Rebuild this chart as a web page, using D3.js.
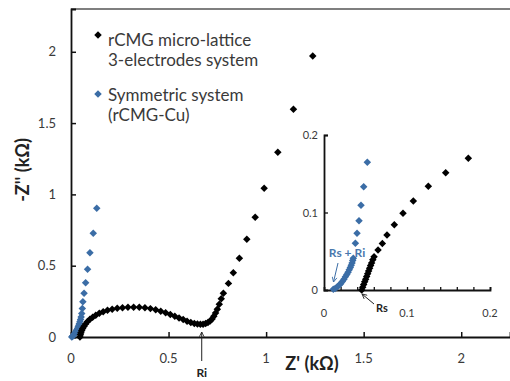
<!DOCTYPE html>
<html>
<head>
<meta charset="utf-8">
<script src="https://cdn.jsdelivr.net/npm/d3@7"></script>
<style>
  html, body { margin: 0; padding: 0; background: #fff; }
  svg { display: block; font-family: Lato, "Open Sans", sans-serif; }
</style>
</head>
<body>
<svg id="chart" width="510" height="381"></svg>
<script>
// Nyquist plot: rCMG micro-lattice (3-electrode) vs symmetric rCMG-Cu cell

// Main plot, 3-electrodes system: Z' (kΩ), -Z'' (kΩ)
const mainElecX = [0.046,0.048,0.051,0.055,0.060,0.067,0.075,0.085,0.097,0.111,0.127,0.145,0.165,0.187,0.211,0.237,0.264,0.292,0.321,0.350,0.379,0.407,0.434,0.460,0.485,0.509,0.532,0.554,0.575,0.595,0.614,0.632,0.648,0.663,0.677,0.690,0.702,0.713,0.723,0.732,0.741,0.750,0.760,0.770,0.781,0.807,0.832,0.863,0.901,0.944,0.990,1.060,1.140,1.239];
const mainElecY = [0.000,0.015,0.030,0.045,0.060,0.075,0.092,0.108,0.124,0.139,0.153,0.166,0.177,0.187,0.195,0.201,0.205,0.208,0.209,0.208,0.205,0.199,0.191,0.181,0.170,0.158,0.146,0.134,0.122,0.111,0.102,0.095,0.091,0.089,0.090,0.094,0.101,0.112,0.127,0.146,0.168,0.195,0.230,0.268,0.306,0.376,0.451,0.552,0.685,0.839,1.043,1.295,1.597,1.971];

// Main plot, symmetric system (rCMG-Cu)
const mainSymX = [0.004,0.007,0.010,0.013,0.016,0.019,0.022,0.025,0.028,0.031,0.034,0.037,0.040,0.043,0.046,0.049,0.052,0.055,0.058,0.061,0.067,0.075,0.085,0.097,0.114,0.132];
const mainSymY = [0.000,0.004,0.008,0.013,0.018,0.024,0.030,0.037,0.045,0.053,0.062,0.072,0.083,0.095,0.108,0.122,0.140,0.165,0.200,0.248,0.306,0.381,0.475,0.591,0.727,0.902];

// Inset (high-frequency region)
const insetElecX = [0.0454,0.0466,0.0478,0.0490,0.0502,0.0514,0.0526,0.0538,0.0550,0.0562,0.0574,0.0588,0.0603,0.0651,0.0703,0.0759,0.0847,0.0952,0.1076,0.1257,0.1466,0.1739];
const insetElecY = [0.000,0.0035,0.0070,0.0105,0.0140,0.0175,0.0210,0.0245,0.0280,0.0315,0.0350,0.0390,0.0430,0.0516,0.060,0.071,0.0843,0.099,0.1148,0.134,0.1514,0.170];
const insetSymX = [0.0112,0.0135,0.0158,0.0180,0.0201,0.0221,0.0240,0.0258,0.0275,0.0290,0.0304,0.0317,0.0328,0.0338,0.0346,0.0353,0.0378,0.0398,0.0422,0.0446,0.0478,0.0522];
const insetSymY = [0.001,0.002,0.004,0.006,0.008,0.011,0.014,0.017,0.020,0.023,0.026,0.029,0.032,0.035,0.038,0.041,0.0602,0.0731,0.0894,0.1093,0.1333,0.1648];

const mainXTicks = [0, 0.5, 1, 1.5, 2];
const mainYTicks = [0, 0.5, 1, 1.5, 2];
const insetXTicks = [0, 0.1, 0.2];
const insetXMinor = [0.02,0.04,0.06,0.08,0.1,0.12,0.14,0.16,0.18,0.2];
const insetYTicks = [0, 0.1, 0.2];

const seriesNames = ["rCMG micro-lattice", "3-electrodes system", "Symmetric system", "(rCMG-Cu)"];

const BLACK = "#000";
const BLUE = "#3b6da6";
const TEXT = "#3a3a3a";
const MARK = 28;

const svg = d3.select("#chart");

const x = d3.scaleLinear().domain([0, 2.25]).range([71, 510]);
const y = d3.scaleLinear().domain([0, 2.3]).range([337, 9]);

const fmt = d => d === 0 ? "0" : String(d);

// top frame line
svg.append("line").attr("x1", x(0)).attr("x2", x(2.25)).attr("y1", y(2.3)).attr("y2", y(2.3))
  .attr("stroke", "#555").attr("stroke-width", 1.6);

// main axes (ticks point inward)
const gx = svg.append("g").attr("transform", `translate(0,${y(0)})`)
  .call(d3.axisTop(x).tickValues(mainXTicks).tickSize(5).tickFormat(""));
const gy = svg.append("g").attr("transform", `translate(${x(0)},0)`)
  .call(d3.axisRight(y).tickValues(mainYTicks).tickSize(5).tickFormat(""));
[gx, gy].forEach(g => {
  g.select(".domain").attr("stroke", "#111").attr("stroke-width", 1.8);
  g.selectAll(".tick line").attr("stroke", "#111").attr("stroke-width", 1.5);
});
gx.select(".tick line").remove();
gy.select(".tick line").remove();

svg.append("g").selectAll("text").data(mainXTicks).join("text")
  .attr("x", d => x(d)).attr("y", 363).attr("text-anchor", "middle")
  .attr("font-size", 13).attr("fill", TEXT).text(fmt);
svg.append("g").selectAll("text").data(mainYTicks).join("text")
  .attr("x", 56).attr("y", d => y(d) + 4.5).attr("text-anchor", "end")
  .attr("font-size", 13).attr("fill", TEXT).text(fmt);

// axis titles
svg.append("text").attr("x", 312).attr("y", 370).attr("text-anchor", "middle")
  .attr("font-size", 18).attr("font-weight", "bold").attr("fill", "#222").text("Z' (kΩ)");
svg.append("text").attr("transform", "translate(29,170) rotate(-90)").attr("text-anchor", "middle")
  .attr("font-size", 18).attr("font-weight", "bold").attr("fill", "#222").text("-Z'' (kΩ)");

const diamond = d3.symbol().type(d3.symbolSquare).size(MARK);

function markers(g, sx, sy, xs, ys, color) {
  g.selectAll(null).data(d3.zip(xs, ys)).join("path")
    .attr("d", diamond)
    .attr("transform", d => `translate(${sx(d[0])},${sy(d[1])}) rotate(45)`)
    .attr("fill", color);
}

markers(svg.append("g"), x, y, mainSymX, mainSymY, BLUE);
markers(svg.append("g"), x, y, mainElecX, mainElecY, BLACK);

// arrowheads
svg.append("defs").html(`
  <marker id="arrK" viewBox="0 0 10 10" refX="9" refY="5" markerWidth="6" markerHeight="6" orient="auto-start-reverse">
    <path d="M1,1 L9,5 L1,9" fill="none" stroke="#222" stroke-width="1.4"/>
  </marker>
  <marker id="arrB" viewBox="0 0 10 10" refX="9" refY="5" markerWidth="6" markerHeight="6" orient="auto-start-reverse">
    <path d="M1,1 L9,5 L1,9" fill="none" stroke="${BLUE}" stroke-width="1.4"/>
  </marker>`);

// Ri marker
const riX = 0.67;
svg.append("line").attr("x1", x(riX)).attr("x2", x(riX)).attr("y1", 361).attr("y2", 332)
  .attr("stroke", "#222").attr("stroke-width", 1).attr("marker-end", "url(#arrK)");
svg.append("text").attr("x", x(riX)).attr("y", 377).attr("text-anchor", "middle")
  .attr("font-size", 12).attr("font-weight", "bold").attr("fill", "#222").text("Ri");

// legend
const legend = svg.append("g");
legend.append("path").attr("d", diamond).attr("transform", "translate(98,35) rotate(45)").attr("fill", BLACK);
legend.append("path").attr("d", diamond).attr("transform", "translate(98,94) rotate(45)").attr("fill", BLUE);
const legY = [46, 66, 101, 121];
legend.selectAll("text").data(seriesNames).join("text")
  .attr("x", 108).attr("y", (d, i) => legY[i])
  .attr("font-size", 17).attr("fill", TEXT).text(d => d);

// inset
const ix = d3.scaleLinear().domain([0, 0.2]).range([324, 490]);
const iy = d3.scaleLinear().domain([0, 0.2]).range([290, 135]);

const igx = svg.append("g").attr("transform", `translate(0,${iy(0)})`)
  .call(d3.axisTop(ix).tickValues(insetXMinor).tickSize(3).tickFormat(""));
const igy = svg.append("g").attr("transform", `translate(${ix(0)},0)`)
  .call(d3.axisRight(iy).tickValues([0.1, 0.2]).tickSize(4).tickFormat(""));
[igx, igy].forEach(g => {
  g.select(".domain").attr("stroke", "#111").attr("stroke-width", 1.8);
  g.selectAll(".tick line").attr("stroke", "#111").attr("stroke-width", 1.3);
});

svg.append("g").selectAll("text").data(insetXTicks).join("text")
  .attr("x", d => ix(d)).attr("y", 317).attr("text-anchor", "middle")
  .attr("font-size", 11).attr("fill", TEXT).text(fmt);
svg.append("g").selectAll("text").data(insetYTicks).join("text")
  .attr("x", 318).attr("y", d => iy(d) + 4).attr("text-anchor", "end")
  .attr("font-size", 11).attr("fill", TEXT).text(fmt);

markers(svg.append("g"), ix, iy, insetSymX, insetSymY, BLUE);
markers(svg.append("g"), ix, iy, insetElecX, insetElecY, BLACK);

// Rs + Ri annotation (symmetric cell)
svg.append("text").attr("x", 347).attr("y", 257).attr("text-anchor", "middle")
  .attr("font-size", 12).attr("font-weight", "bold").attr("fill", "#4a78ad").text("Rs + Ri");
svg.append("line").attr("x1", 338).attr("y1", 263).attr("x2", 333.5).attr("y2", 282)
  .attr("stroke", BLUE).attr("stroke-width", 1).attr("marker-end", "url(#arrB)");

// Rs annotation (3-electrode system)
svg.append("line").attr("x1", 374).attr("y1", 304).attr("x2", 362).attr("y2", 294)
  .attr("stroke", "#222").attr("stroke-width", 1).attr("marker-end", "url(#arrK)");
svg.append("text").attr("x", 376).attr("y", 312)
  .attr("font-size", 11).attr("font-weight", "bold").attr("fill", "#222").text("Rs");
</script>
</body>
</html>
